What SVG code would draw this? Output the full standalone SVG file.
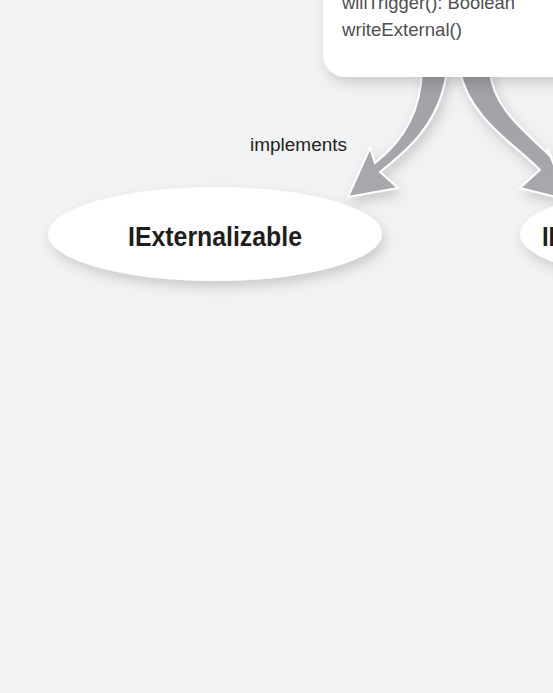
<svg xmlns="http://www.w3.org/2000/svg" width="553" height="693" viewBox="0 0 553 693">
  <defs>
    <filter id="shadow" x="-20%" y="-20%" width="140%" height="160%">
      <feDropShadow dx="3" dy="6" stdDeviation="6" flood-color="#000" flood-opacity="0.16"/>
    </filter>
    <linearGradient id="arrowGrad" x1="0" y1="0" x2="0" y2="1">
      <stop offset="0" stop-color="#a0a1a5"/>
      <stop offset="1" stop-color="#a8a9ad"/>
    </linearGradient>
  </defs>
  <style>
    .bg { fill: #f1f2f4; }
    .arrow { fill: url(#arrowGrad); stroke: #ffffff; stroke-width: 2; stroke-linejoin: miter; filter: url(#shadow); }
    .box { fill: #ffffff; filter: url(#shadow); }
    .ell { fill: #ffffff; filter: url(#shadow); }
    .member { font-family: "Liberation Sans", Arial, sans-serif; font-size: 19px; fill: #4f4f4f; }
    .label { font-family: "Liberation Sans", Arial, sans-serif; font-size: 18px; fill: #231f20; }
    .title { font-family: "Liberation Sans", Arial, sans-serif; font-size: 27px; font-weight: bold; fill: #1e1e1e; }
  </style>
  <rect class="bg" x="0" y="0" width="553" height="693"/>

  <g id="connectors">
    <path id="arrow-left" class="arrow" d="M 422,70 C 421,110 405,140 375,163 L 370,148 L 348,197 L 398,188 L 380,172 C 405,152 440,125 447,70 Z"/>
    <path id="arrow-right" class="arrow" d="M 460,70 C 468,118 520,148 540,170 L 520,188 L 568,200 L 547,148 L 552,158 C 530,135 492,110 490,70 Z"/>
    <text id="label-implements" class="label" x="250" y="151" textLength="97" lengthAdjust="spacingAndGlyphs">implements</text>
  </g>

  <g id="node-class">
    <rect class="box" x="323" y="-60" width="300" height="137" rx="22" ry="22"/>
    <text class="member" x="342" y="9" textLength="173" lengthAdjust="spacingAndGlyphs">willTrigger(): Boolean</text>
    <text class="member" x="342" y="36" textLength="120" lengthAdjust="spacingAndGlyphs">writeExternal()</text>
  </g>

  <g id="node-iexternalizable">
    <ellipse class="ell" cx="215" cy="234" rx="167" ry="47"/>
    <text class="title" x="128" y="246" textLength="174" lengthAdjust="spacingAndGlyphs">IExternalizable</text>
  </g>

  <g id="node-ieventdispatcher">
    <ellipse class="ell" cx="687" cy="234" rx="167" ry="47"/>
    <text class="title" x="542" y="246" textLength="194" lengthAdjust="spacingAndGlyphs">IEventDispatcher</text>
  </g>
</svg>
